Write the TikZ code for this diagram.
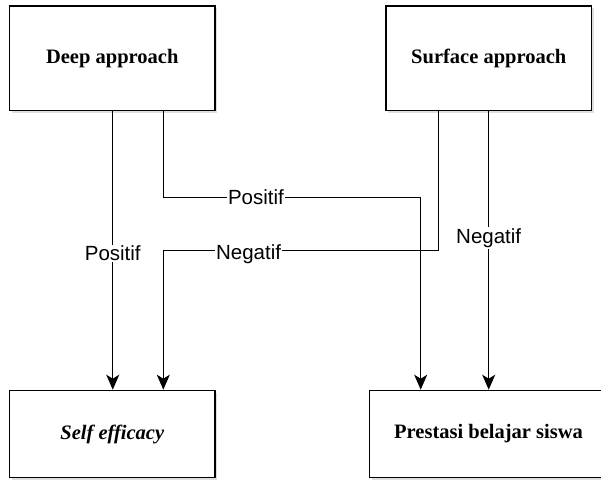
\documentclass[tikz,border=0pt]{standalone}
\usepackage{fontspec}
\setmainfont{Liberation Serif}
\newfontfamily\labelfont{Liberation Sans}
\usetikzlibrary{arrows.meta,shadows}
\begin{document}
\begin{tikzpicture}[x=1pt,y=-1pt,
  box/.style={draw=black,line width=1.6pt,fill=white,minimum height=104.5pt,minimum width=205.5pt,
    font=\fontsize{20.5}{24}\selectfont\bfseries,inner sep=0pt,
    drop shadow={opacity=0.25,shadow xshift=2pt,shadow yshift=-2pt}},
  arr/.style={line width=1.3pt,-{Stealth[length=15pt,width=13pt,inset=4pt]}},
  lbl/.style={fill=white,inner sep=1pt,font=\labelfont\fontsize{20.5}{24}\selectfont}]
\useasboundingbox (0,0) rectangle (601,479);
\node[box] (deep) at (112.25,58.25) {Deep approach};
\node[box] (surf) at (488.75,58.25) {Surface approach};
\node[box,minimum height=87pt] (self) at (112.25,434) {\itshape Self efficacy};
\node[box,minimum height=87pt,minimum width=238pt] (prest) at (488.5,434) {Prestasi belajar siswa};
\coordinate (xa) at (112.75,0);
\coordinate (xb) at (163.3,0);
\coordinate (xc) at (420.7,0);
\coordinate (xd) at (438.3,0);
\coordinate (xe) at (488.7,0);
\coordinate (ya) at (0,197.3);
\coordinate (yb) at (0,250.7);
\draw[arr] (deep.south -| xa) -- node[lbl,pos=0.51] {Positif} (self.north -| xa);
\draw[arr] (deep.south -| xb) -- (xb |- ya) -- node[lbl,pos=0.36] {Positif} (xc |- ya) -- (prest.north -| xc);
\draw[arr] (surf.south -| xd) -- (xd |- yb) -- node[lbl,pos=0.69,yshift=-3pt] {Negatif} (xb |- yb) -- (self.north -| xb);
\draw[arr] (surf.south -| xe) -- node[lbl,pos=0.455] {Negatif} (prest.north -| xe);
\end{tikzpicture}
\end{document}
